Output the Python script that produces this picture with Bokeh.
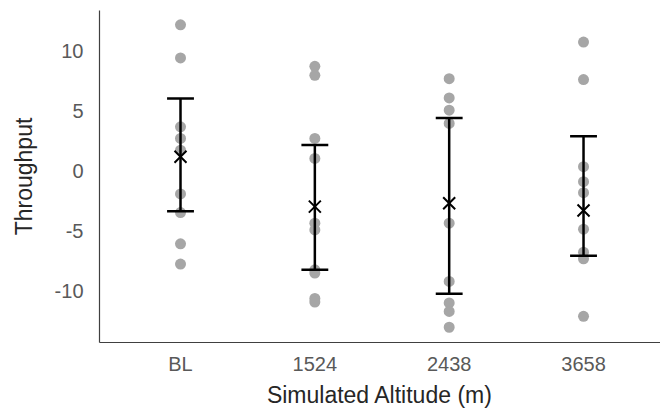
from bokeh.plotting import figure
from bokeh.models import FixedTicker, Range1d
from bokeh.embed import file_html
from bokeh.resources import INLINE

categories = ["BL", "1524", "2438", "3658"]
positions = [1, 2, 3, 4]

vals_bl = [12.17, 9.41, 3.68, 2.71, 1.74, -1.91, -3.46, -6.06, -7.74]
vals_1524 = [8.71, 7.97, 2.71, 1.05, -4.34, -4.90, -8.22, -8.49, -10.6, -10.9]
vals_2438 = [7.69, 6.08, 5.06, 3.96, -4.34, -9.19, -10.98, -11.68, -13.0]
vals_3658 = [10.73, 7.61, 0.36, -0.89, -1.80, -4.84, -6.75, -7.3, -12.09]

means = [1.19, -2.96, -2.68, -3.29]
upper = [6.03, 2.16, 4.42, 2.90]
lower = [-3.34, -8.22, -10.21, -7.05]

y_ticks = [-10, -5, 0, 5, 10]
y_tick_labels = ["-10", "-5", "0", "5", "10"]

FONT = "Liberation Sans"

p = figure(width=660, height=410, output_backend="svg", toolbar_location=None,
           x_range=Range1d(0.397, 4.573), y_range=Range1d(-14.27, 13.36),
           min_border_left=99, min_border_right=0, min_border_top=10, min_border_bottom=67)
p.outline_line_color = None
p.xgrid.visible = False
p.ygrid.visible = False
p.background_fill_color = "white"
p.border_fill_color = "white"

all_x = []
all_y = []
for pos, vals in zip(positions, [vals_bl, vals_1524, vals_2438, vals_3658]):
    all_x += [pos] * len(vals)
    all_y += vals
p.scatter(all_x, all_y, size=11, marker="circle", fill_color="#a6a6a6", line_color=None)

cap = 0.1
p.segment(x0=positions, y0=lower, x1=positions, y1=upper, line_color="black", line_width=2.5)
p.segment(x0=[x - cap for x in positions], y0=upper, x1=[x + cap for x in positions], y1=upper,
          line_color="black", line_width=2.5)
p.segment(x0=[x - cap for x in positions], y0=lower, x1=[x + cap for x in positions], y1=lower,
          line_color="black", line_width=2.5)
p.scatter(positions, means, marker="x", size=17, line_color="black", line_width=2)

p.xaxis.ticker = FixedTicker(ticks=positions)
p.xaxis.major_label_overrides = {pos: lab for pos, lab in zip(positions, categories)}
p.yaxis.ticker = FixedTicker(ticks=y_ticks)
p.yaxis.major_label_overrides = {t: lab for t, lab in zip(y_ticks, y_tick_labels)}

for ax in (p.xaxis, p.yaxis):
    ax.major_tick_out = 0
    ax.major_tick_in = 0
    ax.minor_tick_out = 0
    ax.minor_tick_in = 0
    ax.axis_line_color = "#404040"
    ax.axis_line_width = 1.2
    ax.major_label_text_font = FONT
    ax.major_label_text_font_size = "20px"
    ax.major_label_text_color = "#595959"
    ax.axis_label_text_font = FONT
    ax.axis_label_text_font_size = "23px"
    ax.axis_label_text_font_style = "normal"
    ax.axis_label_text_color = "#262626"

p.xaxis.axis_label = "Simulated Altitude (m)"
p.yaxis.axis_label = "Throughput"
p.xaxis.major_label_standoff = 10
p.yaxis.major_label_standoff = 16
p.xaxis.axis_label_standoff = 4
p.yaxis.axis_label_standoff = 15

open("out.html", "w").write(file_html(p, INLINE))
